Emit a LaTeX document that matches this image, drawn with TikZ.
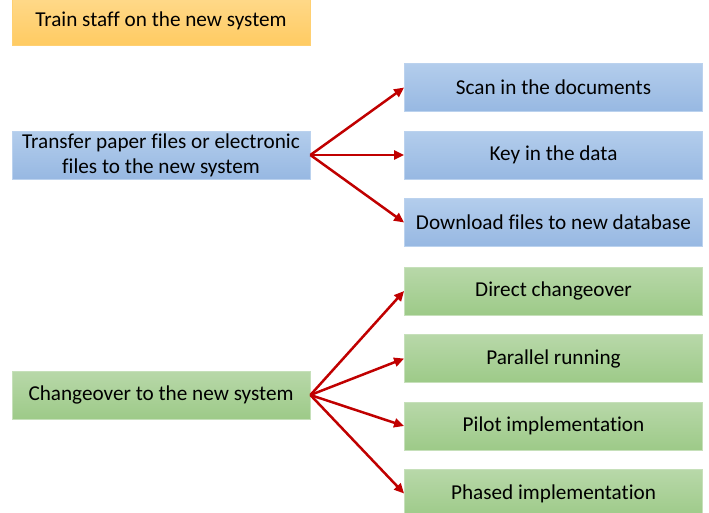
\documentclass[tikz,border=0pt]{standalone}
\usepackage{fontspec}
\setmainfont{Carlito}[Ligatures=NoCommon]
\usetikzlibrary{arrows.meta, positioning}

\definecolor{taskorange}{HTML}{FFD98A}
\definecolor{taskorangedark}{HTML}{FFCB62}
\definecolor{taskblue}{HTML}{B3CDEC}
\definecolor{taskbluedark}{HTML}{97B8E2}
\definecolor{taskgreen}{HTML}{B8D8A9}
\definecolor{taskgreendark}{HTML}{9DCA88}
\definecolor{linkred}{HTML}{C00000}

\tikzset{
  task/.style={minimum width=298pt, minimum height=48pt, inner sep=0pt,
    font=\fontsize{21.2}{25}\selectfont, align=center, line width=0.8pt},
  orangebox/.style={task, shading=axis, top color=taskorange, bottom color=taskorangedark, draw=taskorangedark!90!white},
  bluebox/.style={task, shading=axis, top color=taskblue, bottom color=taskbluedark, draw=taskblue!90!white},
  greenbox/.style={task, shading=axis, top color=taskgreen, bottom color=taskgreendark, draw=taskgreen!80!white},
  link/.style={draw=linkred, line width=2.5pt, -{Triangle[length=10pt,width=9pt]}}
}

\begin{document}
\begin{tikzpicture}[x=1pt, y=-1pt]
    \useasboundingbox (0,0) rectangle (709,512);  % page size of the reference

    % left column
    \node[orangebox] (train) at (161,21) {Train staff on the new system};
    \node[bluebox] (transfer) at (161,155) {Transfer paper files or electronic\\files to the new system};
    \node[greenbox] (changeover) at (161,395) {Changeover to the new system};

    % ways of moving the files
    \foreach \txt [count=\i] in {Scan in the documents, Key in the data, Download files to new database} {
        \node[bluebox] (file\i) at (553.5, {87.5+67.5*(\i-1)}) {\txt};
        \draw[link] (transfer.east) -- (file\i.west);
    }

    % changeover methods
    \foreach \txt [count=\i] in {Direct changeover, Parallel running, Pilot implementation, Phased implementation} {
        \node[greenbox] (method\i) at (553.5, {291+67.5*(\i-1)}) {\txt};
        \draw[link] (changeover.east) -- (method\i.west);
    }
\end{tikzpicture}
\end{document}
